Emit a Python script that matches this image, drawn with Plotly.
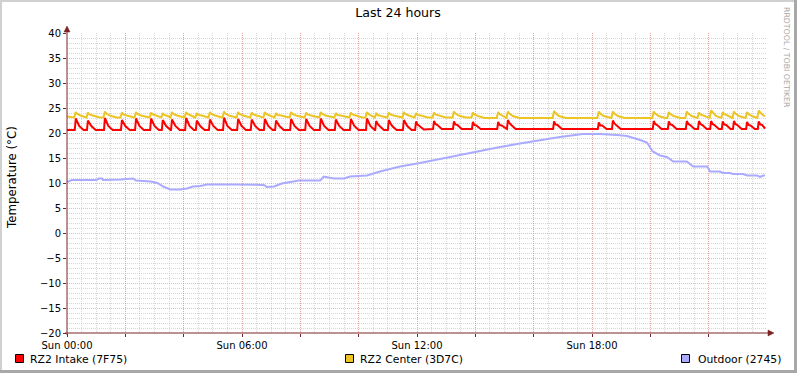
import plotly.graph_objects as go
import pandas as pd

# ---------------- data (minutes since Sun 00:00, value in °C) ----------------
DAY0 = pd.Timestamp("2024-01-07 00:00")   # a Sunday

intake = [
    (0, 20.6),
    (16, 20.6), (18, 22.9), (21, 22.3), (25, 21.4), (34, 20.6),
    (41, 20.6), (43, 22.5), (46, 21.9), (50, 21.4), (59, 20.6),
    (76, 20.6), (78, 23.0), (81, 22.4), (85, 21.4), (94, 20.6),
    (111, 20.6), (113, 22.6), (116, 22.0), (120, 21.4), (129, 20.6),
    (140, 20.6), (142, 22.9), (145, 22.3), (149, 21.4), (158, 20.6),
    (171, 20.6), (173, 22.9), (176, 22.3), (180, 21.4), (189, 20.6),
    (195, 20.6), (197, 22.6), (200, 22.0), (204, 21.4), (213, 20.6),
    (214, 20.6), (216, 22.7), (219, 22.1), (223, 21.4), (232, 20.6),
    (243, 20.6), (245, 23.0), (248, 22.4), (252, 21.4), (261, 20.6),
    (265, 20.6), (267, 22.5), (270, 21.9), (274, 21.4), (283, 20.6),
    (292, 20.6), (294, 22.7), (297, 22.1), (301, 21.4), (310, 20.6),
    (321, 20.6), (323, 23.1), (326, 22.5), (330, 21.4), (339, 20.6),
    (350, 20.6), (352, 22.8), (355, 22.2), (359, 21.4), (368, 20.6),
    (378, 20.6), (380, 22.7), (383, 22.1), (387, 21.4), (396, 20.6),
    (405, 20.6), (407, 22.8), (410, 22.2), (414, 21.4), (423, 20.6),
    (428, 20.6), (430, 22.5), (433, 21.9), (437, 21.4), (446, 20.6),
    (459, 20.6), (461, 22.8), (464, 22.2), (468, 21.4), (477, 20.6),
    (490, 20.6), (492, 22.8), (495, 22.2), (499, 21.4), (508, 20.6),
    (520, 20.6), (522, 22.9), (525, 22.3), (529, 21.4), (538, 20.6),
    (551, 20.6), (553, 22.7), (556, 22.1), (560, 21.4), (569, 20.6),
    (582, 20.6), (584, 22.8), (587, 22.2), (591, 21.4), (600, 20.6),
    (615, 20.6), (617, 22.9), (620, 22.3), (624, 21.4), (633, 20.6),
    (634, 20.6), (636, 22.4), (639, 21.8), (643, 21.4), (652, 20.6),
    (660, 20.6), (662, 22.6), (665, 22.0), (669, 21.4), (678, 20.6),
    (691, 20.6), (693, 22.6), (696, 22.0), (700, 21.4), (709, 20.6),
    (716, 20.6), (718, 22.3), (721, 21.7), (725, 21.4), (734, 20.7),
    (753, 20.8), (755, 22.4), (758, 21.8), (762, 21.6), (771, 20.8),
    (794, 20.8), (796, 22.3), (799, 21.7), (803, 21.6), (812, 20.8),
    (833, 20.8), (835, 22.2), (838, 21.6), (842, 21.5), (851, 20.8),
    (885, 20.8), (887, 22.2), (890, 21.6), (894, 21.5), (903, 20.8),
    (905, 20.8), (907, 22.6), (910, 22.0), (914, 21.6), (923, 20.8),
    (1000, 20.8), (1002, 22.3), (1005, 21.7), (1009, 21.6), (1018, 20.8),
    (1092, 20.8), (1094, 22.1), (1097, 21.5), (1101, 21.5), (1110, 20.8),
    (1121, 20.8), (1123, 22.5), (1126, 21.9), (1130, 21.6), (1139, 20.8),
    (1205, 20.8), (1207, 22.4), (1210, 21.8), (1214, 21.6), (1223, 20.8),
    (1236, 20.8), (1238, 22.3), (1241, 21.7), (1245, 21.6), (1254, 20.8),
    (1273, 20.8), (1275, 22.4), (1278, 21.8), (1282, 21.6), (1291, 20.8),
    (1298, 20.8), (1300, 22.4), (1303, 21.8), (1307, 21.6), (1316, 20.8),
    (1323, 20.8), (1325, 22.4), (1328, 21.8), (1332, 21.6), (1341, 20.8),
    (1347, 20.8), (1349, 22.3), (1352, 21.7), (1356, 21.6), (1365, 20.8),
    (1370, 20.8), (1372, 22.4), (1375, 21.8), (1379, 21.6), (1388, 20.8),
    (1397, 20.8), (1399, 22.2), (1402, 21.6), (1406, 21.5), (1415, 20.8),
    (1421, 20.8), (1423, 22.3), (1426, 21.7), (1430, 21.6), (1436, 20.9),
]

center = [
    (0, 23.3),
    (15, 23.1), (18, 24.2), (21, 23.8), (28, 23.5),
    (40, 23.1), (43, 24.1), (46, 23.7), (53, 23.5), (67, 23.1),
    (75, 23.1), (78, 24.3), (81, 23.9), (88, 23.5), (102, 23.1),
    (110, 23.1), (113, 24.1), (116, 23.7), (123, 23.5), (137, 23.1),
    (139, 23.1), (142, 24.2), (145, 23.8), (152, 23.5), (166, 23.1),
    (170, 23.1), (173, 24.1), (176, 23.7), (183, 23.5),
    (194, 23.1), (197, 24.0), (200, 23.6), (207, 23.4),
    (213, 23.1), (216, 24.2), (219, 23.8), (226, 23.5), (240, 23.1),
    (242, 23.1), (245, 24.2), (248, 23.8), (255, 23.5),
    (264, 23.1), (267, 24.0), (270, 23.6), (277, 23.5),
    (291, 23.1), (294, 24.2), (297, 23.8), (304, 23.5), (318, 23.1),
    (320, 23.1), (323, 24.3), (326, 23.9), (333, 23.5), (347, 23.1),
    (349, 23.1), (352, 24.2), (355, 23.8), (362, 23.5),
    (377, 23.1), (380, 24.1), (383, 23.7), (390, 23.5),
    (404, 23.1), (407, 24.2), (410, 23.8), (417, 23.5),
    (427, 23.1), (430, 24.0), (433, 23.6), (440, 23.5), (454, 23.1),
    (458, 23.1), (461, 24.2), (464, 23.8), (471, 23.5), (485, 23.1),
    (489, 23.1), (492, 24.1), (495, 23.7), (502, 23.5), (516, 23.1),
    (519, 23.1), (522, 24.2), (525, 23.8), (532, 23.5), (546, 23.1),
    (550, 23.1), (553, 24.0), (556, 23.6), (563, 23.5), (577, 23.1),
    (581, 23.1), (584, 24.1), (587, 23.7), (594, 23.5), (608, 23.1),
    (614, 23.1), (617, 24.2), (620, 23.8), (627, 23.5),
    (633, 23.1), (636, 23.9), (639, 23.6), (646, 23.4),
    (659, 23.1), (662, 24.1), (665, 23.7), (672, 23.5), (686, 23.1),
    (690, 23.1), (693, 24.2), (696, 23.8), (703, 23.5),
    (715, 23.1), (718, 24.0), (721, 23.6), (728, 23.5), (742, 23.1),
    (752, 23.1), (755, 24.1), (758, 23.7), (765, 23.5), (779, 23.1),
    (793, 23.1), (796, 24.3), (799, 23.9), (806, 23.5), (820, 23.1),
    (832, 23.1), (835, 24.1), (838, 23.7), (845, 23.4), (859, 23.0),
    (884, 23.0), (887, 24.2), (890, 23.8), (897, 23.4),
    (904, 23.0), (907, 24.3), (910, 23.9), (917, 23.4), (931, 23.0),
    (999, 23.0), (1002, 24.4), (1005, 24.0), (1012, 23.4), (1026, 23.0),
    (1091, 23.0), (1094, 24.3), (1097, 23.9), (1104, 23.4), (1118, 23.0),
    (1120, 23.0), (1123, 24.3), (1126, 23.9), (1133, 23.4), (1147, 23.0),
    (1204, 23.0), (1207, 24.3), (1210, 23.9), (1217, 23.4), (1231, 23.0),
    (1235, 23.0), (1238, 24.2), (1241, 23.8), (1248, 23.4), (1262, 23.0),
    (1272, 23.0), (1275, 24.3), (1278, 23.9), (1285, 23.4),
    (1297, 23.0), (1300, 24.1), (1303, 23.7), (1310, 23.4),
    (1322, 23.0), (1325, 24.5), (1328, 24.1), (1335, 23.4),
    (1346, 23.0), (1349, 24.2), (1352, 23.8), (1359, 23.4),
    (1369, 23.0), (1372, 24.3), (1375, 23.9), (1382, 23.4),
    (1396, 23.0), (1399, 24.2), (1402, 23.8), (1409, 23.4),
    (1420, 23.0), (1423, 24.5), (1426, 24.1), (1433, 23.5), (1436, 23.3),
]

outdoor = [
    (0, 10.2), (10, 10.6), (60, 10.6), (66, 10.9), (72, 10.9), (74, 10.6),
    (110, 10.7), (136, 10.9), (142, 10.5), (172, 10.3), (186, 10.0),
    (198, 9.3), (212, 8.7), (233, 8.7), (247, 8.9), (259, 9.3), (274, 9.4),
    (288, 9.7), (341, 9.7), (376, 9.6), (405, 9.6), (411, 9.2), (426, 9.3),
    (442, 9.9), (477, 10.5), (521, 10.5), (528, 11.3), (549, 10.9),
    (570, 10.9), (582, 11.3), (617, 11.5), (644, 12.3), (685, 13.3),
    (726, 14.0), (767, 14.8), (808, 15.7), (850, 16.4), (891, 17.2),
    (932, 17.9), (973, 18.6), (1014, 19.2), (1061, 19.8), (1096, 19.8),
    (1131, 19.6), (1152, 19.4), (1179, 18.6), (1193, 18.1), (1205, 16.3),
    (1220, 15.5), (1234, 15.2), (1247, 14.3), (1275, 14.3), (1288, 13.3),
    (1317, 13.3), (1323, 12.3), (1343, 12.3), (1349, 12.0), (1364, 12.0),
    (1370, 11.8), (1391, 11.8), (1399, 11.5), (1419, 11.5), (1426, 11.2),
    (1432, 11.5), (1436, 11.5),
]

series_names = ["RZ2 Intake (7F75)", "RZ2 Center (3D7C)", "Outdoor (2745)"]
series_colors = ["#FF0000", "#ECC424", "#AAAAFF"]

x_tick_hours = [0, 2, 4, 6, 8, 10, 12, 14, 16, 18, 20, 22]
x_tick_text = ["Sun 00:00", "", "", "Sun 06:00", "", "", "Sun 12:00", "", "",
               "Sun 18:00", "", ""]

title_text = "Last 24 hours"
y_title = "Temperature (°C)"
watermark = "RRDTOOL / TOBI OETIKER"

# ---------------- figure ----------------
W, H = 797, 373
L, R, T, B = 67, 767, 33, 333
FONT = "DejaVu Sans"
AXIS = "#7a2424"


def px_x(px):
    return (px - L) / (R - L)


def px_y(py):
    return (B - py) / (B - T)


def to_time(pts):
    return [DAY0 + pd.Timedelta(minutes=m) for m, _ in pts], [v for _, v in pts]


fig = go.Figure()
for pts, name, col in zip([intake, center, outdoor], series_names, series_colors):
    xs, ys = to_time(pts)
    fig.add_trace(go.Scatter(x=xs, y=ys, mode="lines", name=name,
                             line=dict(color=col, width=2), showlegend=False))

MGRID = "rgba(235,120,120,0.55)"
GRID = "rgba(175,175,175,0.5)"

fig.update_layout(
    width=W, height=H,
    margin=dict(l=L, r=W - R, t=T, b=H - B, pad=0),
    paper_bgcolor="white", plot_bgcolor="white",
    font=dict(family=FONT, size=10, color="black"),
    title=dict(text=title_text, x=0.4994, xanchor="center", y=1 - 13 / H,
               yanchor="middle", font=dict(family=FONT, size=12.6, color="black")),
    xaxis=dict(
        type="date",
        range=[DAY0, DAY0 + pd.Timedelta(hours=24)],
        tickvals=[DAY0 + pd.Timedelta(hours=h) for h in x_tick_hours],
        ticktext=x_tick_text,
        showgrid=True, gridcolor=MGRID, gridwidth=1, griddash="1px,1px",
        ticks="outside", ticklen=3, tickcolor=AXIS, tickwidth=1,
        showline=False, zeroline=False,
        tickfont=dict(family=FONT, size=10, color="black"),
        minor=dict(dtick=30 * 60 * 1000, tick0=DAY0, showgrid=True,
                   gridcolor=GRID, gridwidth=1, griddash="1px,1px"),
    ),
    yaxis=dict(
        range=[-20, 40], tick0=0, dtick=5,
        showgrid=True, gridcolor=MGRID, gridwidth=1, griddash="1px,1px",
        ticks="outside", ticklen=3, tickcolor=AXIS, tickwidth=1,
        showline=False, zeroline=False,
        tickfont=dict(family=FONT, size=10, color="black"),
        minor=dict(dtick=1, showgrid=True, gridcolor=GRID, gridwidth=1,
                   griddash="1px,1px"),
    ),
)

shapes = []
# frame (3D border)
shapes.append(dict(type="rect", xref="paper", yref="paper", x0=px_x(0), x1=px_x(W),
                   y0=px_y(0), y1=px_y(2), fillcolor="#D0D0D0", line=dict(width=0), layer="above"))
shapes.append(dict(type="rect", xref="paper", yref="paper", x0=px_x(0), x1=px_x(2),
                   y0=px_y(0), y1=px_y(H), fillcolor="#D0D0D0", line=dict(width=0), layer="above"))
shapes.append(dict(type="rect", xref="paper", yref="paper", x0=px_x(0), x1=px_x(W),
                   y0=px_y(H - 3), y1=px_y(H), fillcolor="#A8A8A8", line=dict(width=0), layer="above"))
shapes.append(dict(type="rect", xref="paper", yref="paper", x0=px_x(W - 3), x1=px_x(W),
                   y0=px_y(0), y1=px_y(H), fillcolor="#A8A8A8", line=dict(width=0), layer="above"))
# axes lines
shapes.append(dict(type="line", xref="paper", yref="paper", x0=px_x(L), x1=px_x(L),
                   y0=px_y(B + 2), y1=px_y(28), line=dict(color=AXIS, width=1), layer="above"))
shapes.append(dict(type="line", xref="paper", yref="paper", x0=px_x(L - 2), x1=px_x(771),
                   y0=px_y(B), y1=px_y(B), line=dict(color=AXIS, width=1), layer="above"))
# arrow heads
shapes.append(dict(type="path", xref="paper", yref="paper",
                   path=f"M {px_x(L - 3)},{px_y(32)} L {px_x(L + 3)},{px_y(32)} L {px_x(L)},{px_y(26)} Z",
                   fillcolor=AXIS, line=dict(color=AXIS, width=0.5), layer="above"))
shapes.append(dict(type="path", xref="paper", yref="paper",
                   path=f"M {px_x(768)},{px_y(B - 3)} L {px_x(768)},{px_y(B + 3)} L {px_x(774)},{px_y(B)} Z",
                   fillcolor=AXIS, line=dict(color=AXIS, width=0.5), layer="above"))

# legend boxes & texts
legend_box_x = [15.5, 345.5, 681.5]
legend_text_x = [28, 358, 696]
annotations = []
for bx, tx, name, col in zip(legend_box_x, legend_text_x, series_names, series_colors):
    shapes.append(dict(type="rect", xref="paper", yref="paper",
                       x0=px_x(bx), x1=px_x(bx + 8), y0=px_y(354.5), y1=px_y(362.5),
                       fillcolor=col, line=dict(color="black", width=1), layer="above"))
    annotations.append(dict(text=name, xref="paper", yref="paper", x=px_x(tx), y=px_y(359),
                            xanchor="left", yanchor="middle", showarrow=False,
                            font=dict(family=FONT, size=10.8, color="black")))

annotations.append(dict(text=y_title, xref="paper", yref="paper", x=px_x(12), y=px_y(178),
                        xanchor="center", yanchor="middle", textangle=-90, showarrow=False,
                        font=dict(family=FONT, size=11.8, color="black")))
annotations.append(dict(text=watermark, xref="paper", yref="paper", x=px_x(787), y=px_y(58),
                        xanchor="center", yanchor="middle", textangle=90, showarrow=False,
                        font=dict(family=FONT, size=7.8, color="#A8A8A8")))

fig.update_layout(shapes=shapes, annotations=annotations)
fig.write_html("out.html", config={"displayModeBar": False},
               post_script="document.body.style.margin='0';document.body.style.padding='0';")
